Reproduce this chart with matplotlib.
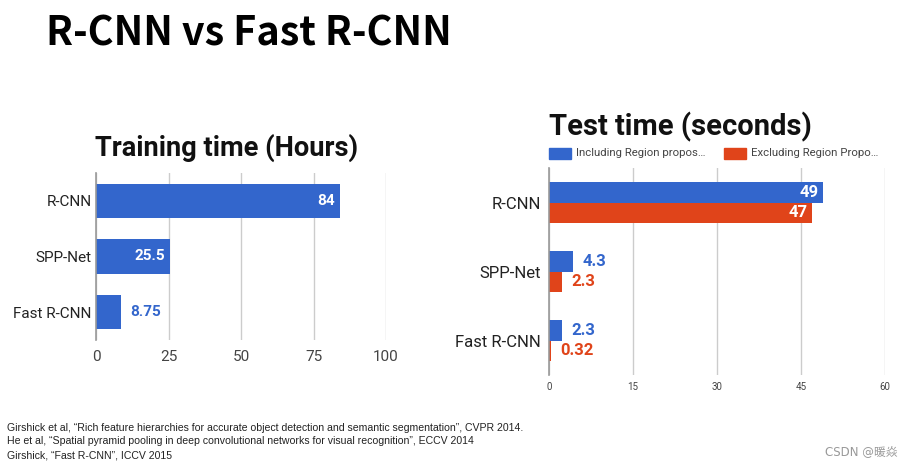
import matplotlib
matplotlib.use("Agg")
import matplotlib.pyplot as plt
from matplotlib.patches import Rectangle

# data
models = ["R-CNN", "SPP-Net", "Fast R-CNN"]
train_hours = [84, 25.5, 8.75]
train_labels = ["84", "25.5", "8.75"]
test_incl = [49, 4.3, 2.3]
test_excl = [47, 2.3, 0.32]
test_incl_labels = ["49", "4.3", "2.3"]
test_excl_labels = ["47", "2.3", "0.32"]
train_ticks = [0, 25, 50, 75, 100]
test_ticks = [0, 15, 30, 45, 60]
legend_names = ["Including Region propos…", "Excluding Region Propo…"]
refs = [
    "Girshick et al, \u201cRich feature hierarchies for accurate object detection and semantic segmentation\u201d, CVPR 2014.",
    "He et al, \u201cSpatial pyramid pooling in deep convolutional networks for visual recognition\u201d, ECCV 2014",
    "Girshick, \u201cFast R-CNN\u201d, ICCV 2015",
]

BLUE = "#3366cc"
RED = "#e0441a"
W, H = 905, 468

plt.rcParams["font.family"] = ["Roboto", "DejaVu Sans"]
fig = plt.figure(figsize=(W / 100, H / 100), dpi=100)


def px_axes(x0, y0, x1, y1):
    # pixel box (top-left origin) -> figure axes
    return fig.add_axes([x0 / W, 1 - y1 / H, (x1 - x0) / W, (y1 - y0) / H])


def style_axis(ax, ticks, tick_size, label_size, xpad, ypad):
    ax.set_xlim(ticks[0], ticks[-1])
    ax.set_ylim(2.5, -0.5)
    ax.set_xticks(ticks)
    ax.set_yticks(range(len(models)))
    ax.set_yticklabels(models)
    for s in ["top", "right", "bottom"]:
        ax.spines[s].set_visible(False)
    ax.spines["left"].set_color("#999999")
    ax.spines["left"].set_linewidth(1.2)
    ax.grid(axis="x", color="#cccccc", linewidth=1)
    ax.set_axisbelow(True)
    ax.tick_params(length=0)
    ax.tick_params(axis="x", labelsize=tick_size, labelcolor="#444444", pad=xpad)
    ax.tick_params(axis="y", labelsize=label_size, labelcolor="#222222", pad=ypad)


# left chart: training time
ax1 = px_axes(96, 173, 386, 340)
style_axis(ax1, train_ticks, 11, 11, 7, 3)
ax1.barh(range(len(models)), train_hours, height=0.62, color=BLUE, zorder=2)
for i, (v, t) in enumerate(zip(train_hours, train_labels)):
    if v > 20:
        ax1.text(v - 1.5, i, t, ha="right", va="center", color="white",
                 fontsize=11, fontweight="bold")
    else:
        ax1.text(v + 3, i, t, ha="left", va="center", color=BLUE,
                 fontsize=11, fontweight="bold")
fig.text(227 / W, 1 - 148 / H, "Training time (Hours)", ha="center", va="center",
         fontsize=19.6, fontweight="bold", color="#111111")

# right chart: test time
ax2 = px_axes(549, 168, 885, 375)
style_axis(ax2, test_ticks, 7, 12, 5, 6)
idx = list(range(len(models)))
ax2.barh([i - 0.15 for i in idx], test_incl, height=0.3, color=BLUE, zorder=2)
ax2.barh([i + 0.15 for i in idx], test_excl, height=0.3, color=RED, zorder=2)
for i in idx:
    for off, v, t, c in [(-0.15, test_incl[i], test_incl_labels[i], BLUE),
                         (0.15, test_excl[i], test_excl_labels[i], RED)]:
        if v > 20:
            ax2.text(v - 0.8, i + off, t, ha="right", va="center", color="white",
                     fontsize=12, fontweight="bold")
        else:
            ax2.text(v + 1.7, i + off, t, ha="left", va="center", color=c,
                     fontsize=12, fontweight="bold")
fig.text(549 / W, 1 - 127 / H, "Test time (seconds)", ha="left", va="center",
         fontsize=21, fontweight="bold", color="#111111")

# legend
for x0, c, name in [(549, BLUE, legend_names[0]), (724, RED, legend_names[1])]:
    fig.patches.append(Rectangle((x0 / W, 1 - 159 / H), 22 / W, 11 / H,
                                 transform=fig.transFigure, color=c))
    fig.text((x0 + 27) / W, 1 - 153.5 / H, name, ha="left", va="center",
             fontsize=8.2, color="#444444")

# main title
fig.text(46 / W, 1 - 34 / H, "R-CNN vs Fast R-CNN", ha="left", va="center",
         fontsize=28.5, fontweight="bold", family=["Noto Sans CJK SC", "DejaVu Sans"],
         color="black")

# references
for k, line in enumerate(refs):
    fig.text(7 / W, 1 - (428 + k * 13.5) / H, line, ha="left", va="center",
             fontsize=7.6, color="#222222", family=["Liberation Sans", "DejaVu Sans"])

fig.text(897 / W, 1 - 452 / H, "CSDN @暖焱", ha="right", va="center", fontsize=8.5,
         color="#999999", family=["DejaVu Sans", "Noto Sans CJK SC"])

fig.savefig("out.png", dpi=100, facecolor="white")
